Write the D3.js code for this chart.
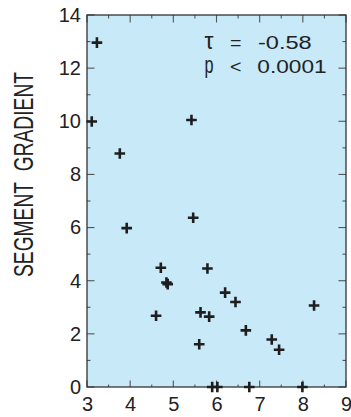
<!DOCTYPE html>
<html>
<head>
<meta charset="utf-8">
<script src="https://cdn.jsdelivr.net/npm/d3@7"></script>
<style>
  html, body { margin: 0; padding: 0; background: #ffffff; }
  svg { display: block; font-family: "Liberation Sans", Arial, Helvetica, sans-serif; }
</style>
</head>
<body>
<svg id="chart" width="351" height="417"></svg>
<script>
// Segment gradient against the x measure, one cross per segment
const xValues = [3.23, 3.11, 5.42, 3.76, 3.92, 5.46, 4.71, 5.79, 4.84, 4.87, 4.60, 5.63,
                 5.83, 5.60, 6.20, 6.44, 6.68, 7.28, 7.45, 8.26, 5.90, 6.02, 6.76, 7.99];
const yValues = [12.96, 9.99, 10.05, 8.79, 5.98, 6.37, 4.49, 4.46, 3.93, 3.87, 2.68, 2.81,
                 2.65, 1.61, 3.55, 3.20, 2.13, 1.79, 1.40, 3.07, 0, 0, 0, 0];

const xTicks = [3, 4, 5, 6, 7, 8, 9];
const yTicks = [0, 2, 4, 6, 8, 10, 12, 14];
const xMinorTicks = [3.5, 4.5, 5.5, 6.5, 7.5, 8.5];
const yMinorTicks = [1, 3, 5, 7, 9, 11, 13];

const yTitle = "SEGMENT\u00A0\u00A0GRADIENT";
const tauLabel = ["\u03C4", "=", "-0.58"];
const pLabel = ["p", "<", "0.0001"];

const svg = d3.select("#chart");
const box = { left: 87, right: 346, top: 15, bottom: 387 };

const x = d3.scaleLinear().domain([3, 9]).range([box.left, box.right]);
const y = d3.scaleLinear().domain([0, 14]).range([box.bottom, box.top]);

// plot background
svg.append("rect")
  .attr("x", box.left).attr("y", box.top)
  .attr("width", box.right - box.left).attr("height", box.bottom - box.top)
  .attr("fill", "#c7e9f8");

const tickColor = "#555";
const major = 7.5, minor = 3.5;

// inward ticks on all four sides
function sideTicks(gen, values, len) {
  const g = svg.append("g").attr("stroke", tickColor).attr("stroke-width", 1.1);
  values.forEach(v => gen(g, v, len));
}
const bottomTick = (g, v, len) => g.append("line").attr("x1", x(v)).attr("x2", x(v)).attr("y1", box.bottom).attr("y2", box.bottom - len);
const topTick = (g, v, len) => g.append("line").attr("x1", x(v)).attr("x2", x(v)).attr("y1", box.top).attr("y2", box.top + len);
const leftTick = (g, v, len) => g.append("line").attr("y1", y(v)).attr("y2", y(v)).attr("x1", box.left).attr("x2", box.left + len);
const rightTick = (g, v, len) => g.append("line").attr("y1", y(v)).attr("y2", y(v)).attr("x1", box.right).attr("x2", box.right - len);

sideTicks(bottomTick, xTicks, major - 1);
sideTicks(bottomTick, xMinorTicks, minor - 1);
sideTicks(topTick, xTicks, major);
sideTicks(topTick, xMinorTicks, minor);
sideTicks(leftTick, yTicks, major);
sideTicks(leftTick, yMinorTicks, minor);
sideTicks(rightTick, yTicks, major);
sideTicks(rightTick, yMinorTicks, minor);

// frame
svg.append("rect")
  .attr("x", box.left).attr("y", box.top)
  .attr("width", box.right - box.left).attr("height", box.bottom - box.top)
  .attr("fill", "none").attr("stroke", "#333").attr("stroke-width", 1.3);

// tick labels via d3 axes (tick lines hidden, labels only)
const xAxis = d3.axisBottom(x).tickValues(xTicks).tickFormat(d3.format("d")).tickSize(0).tickPadding(10);
const gx = svg.append("g").attr("transform", `translate(0,${box.bottom})`).call(xAxis);
gx.select(".domain").remove();
gx.selectAll("text").attr("font-size", 20).attr("fill", "#222")
  .attr("font-family", "'Liberation Sans', Arial, sans-serif");

const yAxis = d3.axisLeft(y).tickValues(yTicks).tickFormat(d3.format("d")).tickSize(0).tickPadding(6);
const gy = svg.append("g").attr("transform", `translate(${box.left},0)`).call(yAxis);
gy.select(".domain").remove();
gy.selectAll("text").attr("font-size", 20).attr("fill", "#222")
  .attr("font-family", "'Liberation Sans', Arial, sans-serif");

// y axis title, tall narrow lettering
svg.append("text")
  .attr("transform", "translate(32.5,174.5) rotate(-90) scale(1,1.35)")
  .attr("text-anchor", "middle")
  .attr("font-size", 21)
  .attr("fill", "#222")
  .attr("textLength", 205)
  .attr("lengthAdjust", "spacingAndGlyphs")
  .text(yTitle);

// statistics annotation
function statLine(parts, baseline, widths, starts, sizes) {
  parts.forEach((t, i) => {
    svg.append("text")
      .attr("x", starts[i]).attr("y", baseline)
      .attr("font-size", sizes[i]).attr("fill", "#222")
      .attr("textLength", widths[i]).attr("lengthAdjust", "spacingAndGlyphs")
      .text(t);
  });
}
statLine(tauLabel, 49, [9, 11.5, 53.7], [204.5, 230, 258], [23, 18.5, 18.5]);
statLine(pLabel, 73.3, [9, 11.5, 69.3], [204.5, 230, 257.3], [23, 18.5, 18.5]);

// cross markers
const arm = 5.3;
const pts = xValues.map((v, i) => [v, yValues[i]]);
svg.append("g")
  .selectAll("path")
  .data(pts)
  .join("path")
  .attr("d", d => {
    const cx = x(d[0]), cy = y(d[1]);
    return `M${cx - arm},${cy}H${cx + arm}M${cx},${cy - arm}V${cy + arm}`;
  })
  .attr("stroke", "#1e1e1e")
  .attr("stroke-width", 2.6)
  .attr("fill", "none");
</script>
</body>
</html>
